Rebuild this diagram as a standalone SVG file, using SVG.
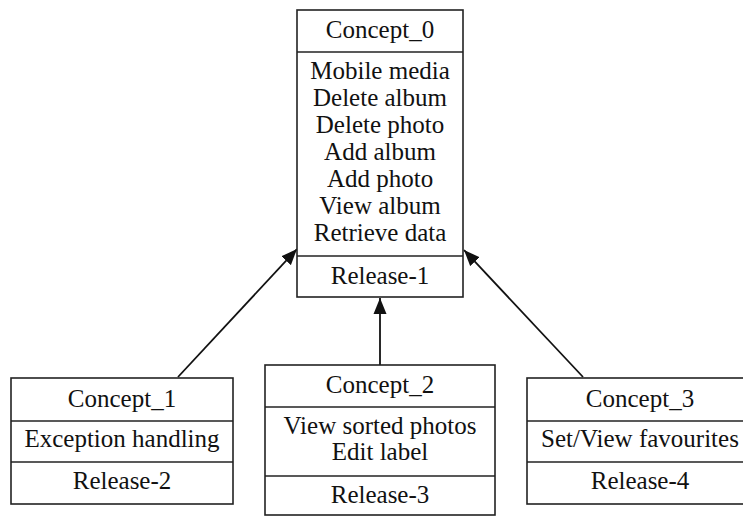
<svg xmlns="http://www.w3.org/2000/svg" width="743" height="516" viewBox="0 0 743 516">
<style>
.box{fill:#fff;stroke:#222;stroke-width:1.6}
.sep{stroke:#222;stroke-width:1.6}
text{font-family:"Liberation Serif","Times New Roman",serif;font-size:25px;fill:#111;text-anchor:middle}
.edge{stroke:#111;stroke-width:1.8;fill:none;marker-end:url(#arr)}
</style>
<defs>
<marker id="arr" markerWidth="17" markerHeight="14" refX="16" refY="7" orient="auto" markerUnits="userSpaceOnUse">
<path d="M0,0.5 L16,7 L0,13.5 Z" fill="#111"/>
</marker>
</defs>
<rect width="743" height="516" fill="#fff"/>
<g id="connectors">
<line class="edge" x1="178" y1="377" x2="297" y2="249"/>
<line class="edge" x1="380" y1="365" x2="380" y2="298"/>
<line class="edge" x1="583" y1="377" x2="464" y2="250"/>
</g>
<g id="concept0">
<rect class="box" x="297" y="10" width="166" height="287"/>
<line class="sep" x1="297" y1="52" x2="463" y2="52"/>
<line class="sep" x1="297" y1="256" x2="463" y2="256"/>
<text x="380" y="38">Concept_0</text>
<text x="380" y="79">Mobile media</text>
<text x="380" y="106">Delete album</text>
<text x="380" y="133">Delete photo</text>
<text x="380" y="160">Add album</text>
<text x="380" y="187">Add photo</text>
<text x="380" y="214">View album</text>
<text x="380" y="241">Retrieve data</text>
<text x="380" y="284">Release-1</text>
</g>
<g id="concept1">
<rect class="box" x="11" y="378" width="222" height="126"/>
<line class="sep" x1="11" y1="421" x2="233" y2="421"/>
<line class="sep" x1="11" y1="462" x2="233" y2="462"/>
<text x="122" y="407">Concept_1</text>
<text x="122" y="447">Exception handling</text>
<text x="122" y="489">Release-2</text>
</g>
<g id="concept2">
<rect class="box" x="265" y="365" width="230" height="150"/>
<line class="sep" x1="265" y1="407" x2="495" y2="407"/>
<line class="sep" x1="265" y1="476" x2="495" y2="476"/>
<text x="380" y="393">Concept_2</text>
<text x="380" y="434">View sorted photos</text>
<text x="380" y="460">Edit label</text>
<text x="380" y="503">Release-3</text>
</g>
<g id="concept3">
<rect class="box" x="527" y="378" width="226" height="126"/>
<line class="sep" x1="527" y1="421" x2="753" y2="421"/>
<line class="sep" x1="527" y1="462" x2="753" y2="462"/>
<text x="640" y="407">Concept_3</text>
<text x="640" y="447">Set/View favourites</text>
<text x="640" y="489">Release-4</text>
</g>
</svg>
